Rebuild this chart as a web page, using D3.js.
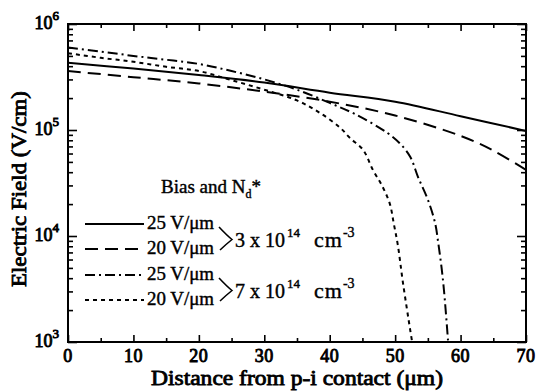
<!DOCTYPE html>
<html>
<head>
<meta charset="utf-8">
<script src="https://cdn.jsdelivr.net/npm/d3@7"></script>
<style>
  body { margin: 0; background: #fff; }
</style>
</head>
<body>
<div id="chart"></div>
<script>
// data
const xTicks = [0, 10, 20, 30, 40, 50, 60, 70];
const xMinor = [5, 15, 25, 35, 45, 55, 65];
const yDecades = [3, 4, 5, 6];

const solidX = [0, 10, 20, 30, 40, 50, 60, 70];
const solidY = [4.3e5, 3.8e5, 3.3e5, 2.8e5, 2.25e5, 1.85e5, 1.35e5, 9.8e4];

const dashX = [0, 10, 20, 30, 40, 50, 60, 65, 70];
const dashY = [3.6e5, 3.15e5, 2.75e5, 2.3e5, 1.85e5, 1.37e5, 8.8e4, 6.4e4, 4.2e4];

const dashDotX = [0, 5, 10, 15, 20, 25, 30, 35, 40, 44, 48.8, 50.7, 52.3, 53.5, 55, 56.1, 56.6, 57.1, 57.5, 58.1];
const dashDotY = [6.0e5, 5.5e5, 5.0e5, 4.6e5, 4.2e5, 3.6e5, 3.0e5, 2.4e5, 1.8e5, 1.4e5, 9.4e4, 7.5e4, 5.6e4, 3.6e4, 2.2e4, 1.33e4, 8.5e3, 5e3, 2.9e3, 1e3];

const dotX = [0, 5, 10, 15, 20, 25, 30, 35, 38.5, 41.6, 43.1, 45.1, 46.6, 48.1, 49.2, 49.8, 50.4, 51.2, 52.3, 52.6];
const dotY = [5.3e5, 4.8e5, 4.4e5, 3.95e5, 3.6e5, 2.95e5, 2.4e5, 1.9e5, 1.45e5, 1.05e5, 8.4e4, 6.5e4, 4.2e4, 2.9e4, 2.0e4, 1.3e4, 8.3e3, 3.6e3, 1.3e3, 1e3];

const legendLabels = ["25 V/\u03bcm", "20 V/\u03bcm", "25 V/\u03bcm", "20 V/\u03bcm"];
const dopings = ["3 x 10", "7 x 10"];

const W = 540, H = 391;
const mLeft = 68, mRight = 526, mTop = 24, mBottom = 342;
const serif = "'Liberation Serif', 'Times New Roman', serif";

const svg = d3.select("#chart").append("svg")
  .attr("width", W).attr("height", H)
  .attr("font-family", serif);

const x = d3.scaleLinear().domain([0, 70]).range([mLeft, mRight]);
const y = d3.scaleLog().domain([1e3, 1e6]).range([mBottom, mTop]);

// heavy photocopied look: normal serif with a thin outline
const heavy = (sel, w) => sel.attr("stroke", "#000").attr("stroke-width", w).attr("fill", "#000");

// minor log ticks
const yMinor = [];
[3, 4, 5].forEach(d => {
  for (let k = 2; k <= 9; k++) yMinor.push(k * Math.pow(10, d));
});

// plot frame
svg.append("rect")
  .attr("x", mLeft).attr("y", mTop)
  .attr("width", mRight - mLeft).attr("height", mBottom - mTop)
  .attr("fill", "none").attr("stroke", "#000").attr("stroke-width", 2);

// x ticks, bottom and top, pointing inward
svg.append("g").attr("transform", `translate(0,${mBottom})`)
  .call(d3.axisBottom(x).tickValues(xTicks).tickSize(-7).tickFormat(""));
svg.append("g").attr("transform", `translate(0,${mTop})`)
  .call(d3.axisTop(x).tickValues(xTicks).tickSize(-7).tickFormat(""));
svg.append("g").attr("transform", `translate(0,${mBottom})`)
  .call(d3.axisBottom(x).tickValues(xMinor).tickSize(-4).tickFormat(""));
svg.append("g").attr("transform", `translate(0,${mTop})`)
  .call(d3.axisTop(x).tickValues(xMinor).tickSize(-4).tickFormat(""));

// y ticks, left and right
const decadeVals = yDecades.map(d => Math.pow(10, d));
svg.append("g").attr("transform", `translate(${mLeft},0)`)
  .call(d3.axisLeft(y).tickValues(decadeVals).tickSize(-9).tickFormat(""));
svg.append("g").attr("transform", `translate(${mRight},0)`)
  .call(d3.axisRight(y).tickValues(decadeVals).tickSize(-9).tickFormat(""));
svg.append("g").attr("transform", `translate(${mLeft},0)`)
  .call(d3.axisLeft(y).tickValues(yMinor).tickSize(-5).tickFormat(""));
svg.append("g").attr("transform", `translate(${mRight},0)`)
  .call(d3.axisRight(y).tickValues(yMinor).tickSize(-5).tickFormat(""));

svg.selectAll(".domain").remove();
svg.selectAll(".tick line").attr("stroke", "#000").attr("stroke-width", 1.6);

// x tick labels
svg.append("g").selectAll("text").data(xTicks).join("text")
  .attr("x", d => x(d)).attr("y", mBottom + 20)
  .attr("text-anchor", "middle")
  .attr("font-size", 18)
  .attr("letter-spacing", 0.5)
  .text(d => d)
  .call(heavy, 0.9);

// y tick labels as 10^n
const yl = svg.append("g").selectAll("text").data(yDecades).join("text")
  .attr("x", mLeft - 9).attr("y", d => y(Math.pow(10, d)) + 5)
  .attr("text-anchor", "end")
  .attr("font-size", 18)
  .call(heavy, 0.9);
yl.append("tspan").text("10");
yl.append("tspan").attr("dy", -9).attr("font-size", 13).text(d => d);

// axis titles
svg.append("text")
  .attr("x", 297).attr("y", 385)
  .attr("text-anchor", "middle")
  .attr("font-size", 20)
  .attr("textLength", 292)
  .attr("lengthAdjust", "spacingAndGlyphs")
  .text("Distance from p-i contact (\u03bcm)")
  .call(heavy, 0.8);

svg.append("text")
  .attr("transform", `translate(26,189) rotate(-90)`)
  .attr("text-anchor", "middle")
  .attr("font-size", 20)
  .attr("textLength", 196)
  .attr("lengthAdjust", "spacingAndGlyphs")
  .text("Electric Field (V/cm)")
  .call(heavy, 0.8);

// curves
svg.append("clipPath").attr("id", "clip")
  .append("rect").attr("x", mLeft).attr("y", mTop)
  .attr("width", mRight - mLeft).attr("height", mBottom - mTop);

const series = [
  { xs: solidX, ys: solidY, dash: null },
  { xs: dashX, ys: dashY, dash: "13,7" },
  { xs: dashDotX, ys: dashDotY, dash: "10,4,2,4" },
  { xs: dotX, ys: dotY, dash: "4,4" }
];

const line = d3.line()
  .x(d => x(d[0])).y(d => y(d[1]))
  .curve(d3.curveCatmullRom.alpha(0.5));

svg.append("g").attr("clip-path", "url(#clip)")
  .selectAll("path").data(series).join("path")
  .attr("d", s => line(s.xs.map((v, i) => [v, s.ys[i]])))
  .attr("fill", "none").attr("stroke", "#000")
  .attr("stroke-width", 2)
  .attr("stroke-dasharray", s => s.dash);

// legend
const title = svg.append("text")
  .attr("x", 161).attr("y", 193)
  .attr("font-size", 19)
  .call(heavy, 0.4);
title.append("tspan").text("Bias and N");
title.append("tspan").attr("dy", 5).attr("font-size", 12).text("d");
title.append("tspan").attr("dy", -5).text("*");

const rowY = [224, 249, 275, 300];
const lg = svg.append("g");
lg.selectAll("line").data(series).join("line")
  .attr("x1", 85).attr("x2", 144)
  .attr("y1", (s, i) => rowY[i]).attr("y2", (s, i) => rowY[i])
  .attr("stroke", "#000").attr("stroke-width", 2)
  .attr("stroke-dasharray", s => s.dash);
lg.selectAll("text").data(legendLabels).join("text")
  .attr("x", 147).attr("y", (d, i) => rowY[i] + 5)
  .attr("font-size", 18)
  .attr("textLength", 67)
  .attr("lengthAdjust", "spacingAndGlyphs")
  .text(d => d)
  .call(heavy, 0.4);

// brackets and doping labels
[0, 1].forEach(j => {
  const y0 = rowY[2 * j] + 3, y1 = rowY[2 * j + 1] - 1;
  const ym = (y0 + y1) / 2 + 2;
  lg.append("path")
    .attr("d", `M219,${y0} Q227,${ym - 4} 232,${ym} Q227,${ym + 4} 220,${y1 + 2}`)
    .attr("fill", "none").attr("stroke", "#000").attr("stroke-width", 1.6);
  const t = lg.append("text")
    .attr("x", 235).attr("y", ym + 7)
    .attr("font-size", 20)
    .call(heavy, 0.4);
  t.append("tspan").text(dopings[j]);
  t.append("tspan").attr("dy", -10).attr("dx", 2).attr("font-size", 13).text("14");
  t.append("tspan").attr("dy", 10).attr("dx", 14).attr("font-size", 22).attr("letter-spacing", 1).text("cm");
  t.append("tspan").attr("dy", -10).attr("font-size", 14).text("-3");
});
</script>
</body>
</html>
